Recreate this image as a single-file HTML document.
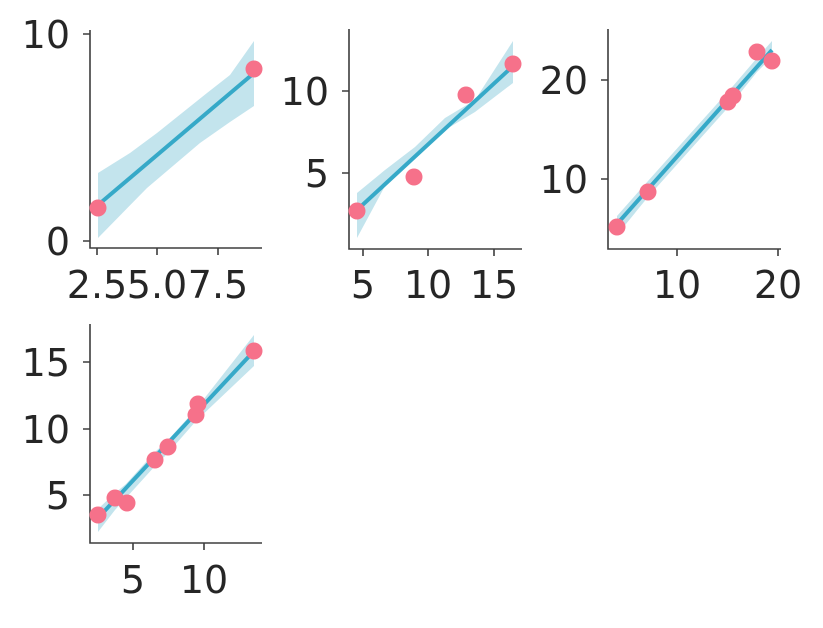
<!DOCTYPE html>
<html><head><style>body{margin:0;background:#fff}svg text{font-family:"DejaVu Sans","Liberation Sans",sans-serif;font-size:38px;fill:#262626}</style></head>
<body>
<svg width="823" height="623" viewBox="0 0 823 623" xmlns="http://www.w3.org/2000/svg">
<g stroke="#3d3d3d" stroke-width="1.6" fill="none">
<path d="M90,30 V248 H262"/><path d="M83,34 H90 M83,241 H90 M97,248 V255 M157,248 V255 M218,248 V255"/>
<path d="M349,29 V249 H522"/><path d="M342,91 H349 M342,173 H349 M363,249 V256 M428,249 V256 M494,249 V256"/>
<path d="M608,29 V249 H781"/><path d="M601,80 H608 M601,179 H608 M677,249 V256 M778,249 V256"/>
<path d="M90,324 V543 H262"/><path d="M83,362 H90 M83,429 H90 M83,495 H90 M133,543 V550 M204,543 V550"/>
</g>
<g fill="#c3e4ed">
<polygon points="98,173 130,153 157,133 207,93 230,75 254,41 254,106 230,122 200,143 147,188 98,238"/>
<polygon points="357,193 385,170 415,147 445,118 475,100 513,41 513,83 475,112 445,130 415,156 385,186 357,238"/>
<polygon points="617,216 648,181 690,134 733,86 757,58 772,41 772,57 757,72 733,102 690,150 648,197 617,235"/>
<polygon points="98,509 115,493 126,484 155,452 168,440 196,409 254,335 254,366 196,421 168,453 155,466 126,498 115,510 98,532"/>
</g>
<g stroke="#36a9c8" stroke-width="4" fill="none">
<line x1="98" y1="205" x2="254" y2="73"/>
<line x1="357" y1="210" x2="513" y2="66"/>
<line x1="617" y1="224" x2="772" y2="50"/>
<line x1="98" y1="518" x2="254" y2="351"/>
</g>
<g fill="#f6718a">
<circle cx="98" cy="208" r="8.5"/><circle cx="254" cy="69" r="8.5"/>
<circle cx="357" cy="211" r="8.5"/><circle cx="414" cy="177" r="8.5"/><circle cx="466" cy="95" r="8.5"/><circle cx="513" cy="64" r="8.5"/>
<circle cx="617" cy="227" r="8.5"/><circle cx="648" cy="192" r="8.5"/><circle cx="728" cy="102" r="8.5"/><circle cx="733" cy="96" r="8.5"/><circle cx="757" cy="52" r="8.5"/><circle cx="772" cy="61" r="8.5"/>
<circle cx="98" cy="515" r="8.5"/><circle cx="115" cy="498" r="8.5"/><circle cx="127" cy="503" r="8.5"/><circle cx="155" cy="460" r="8.5"/><circle cx="168" cy="447" r="8.5"/><circle cx="196" cy="415" r="8.5"/><circle cx="198" cy="404" r="8.5"/><circle cx="254" cy="351" r="8.5"/>
</g>
<g text-anchor="end">
<text x="70" y="48">10</text><text x="70" y="255">0</text>
<text x="329" y="105">10</text><text x="329" y="187">5</text>
<text x="588" y="94">20</text><text x="588" y="193">10</text>
<text x="70" y="376">15</text><text x="70" y="443">10</text><text x="70" y="509">5</text>
</g>
<g text-anchor="middle">
<text x="97" y="298">2.5</text><text x="157" y="298">5.0</text><text x="218" y="298">7.5</text>
<text x="363" y="298">5</text><text x="428" y="298">10</text><text x="494" y="298">15</text>
<text x="677" y="298">10</text><text x="778" y="298">20</text>
<text x="133" y="593">5</text><text x="204" y="593">10</text>
</g>
</svg>
</body></html>
